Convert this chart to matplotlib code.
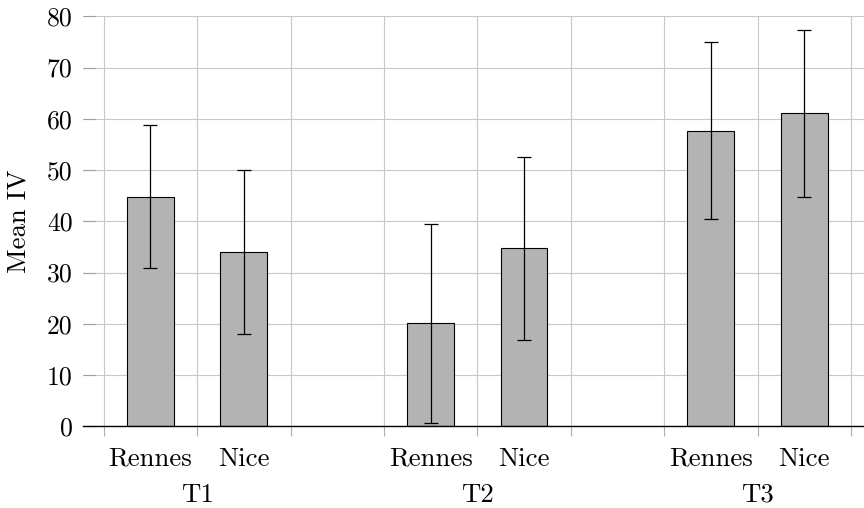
import matplotlib
matplotlib.use("Agg")
import matplotlib.pyplot as plt
import numpy as np

# Data
groups = ["T1", "T2", "T3"]
cities = ["Rennes", "Nice"]
means = [44.8, 34.1, 20.1, 34.7, 57.7, 61.1]
errors = [13.9, 16.0, 19.4, 17.9, 17.3, 16.3]
yticks = [0, 10, 20, 30, 40, 50, 60, 70, 80]

plt.rcParams['font.family'] = ['cmr10', 'DejaVu Serif']
plt.rcParams['axes.formatter.use_mathtext'] = True
plt.rcParams['mathtext.fontset'] = 'cm'

FS = 18.5
FL = 19.3
fig = plt.figure(figsize=(8.64, 5.08), dpi=100)
ax = fig.add_axes([83/864, 81.7/508, 1 - 83/864, (426.3 - 16.3)/508])

# positions: each group occupies 3 slots, bars in first two
pos = []
for g in range(len(groups)):
    for c in range(len(cities)):
        pos.append(3 * g + c + 0.5)
pos = np.array(pos)

ax.bar(pos, means, width=0.5, color='#b3b3b3', edgecolor='black', linewidth=0.8, zorder=3)
ax.errorbar(pos, means, yerr=errors, fmt='none', ecolor='black', elinewidth=0.9,
            capsize=4.7, capthick=0.9, zorder=4)

ax.set_xlim(-0.2216, 8.14)
ax.set_ylim(0, 80)
ax.set_xticks(np.arange(0, 9))
ax.set_xticklabels([])
ax.set_yticks(yticks)
ax.set_yticklabels([str(v) for v in yticks], fontsize=FS)
ax.tick_params(axis='x', which='major', direction='out', length=7.4, width=0.8, color='#b0b0b0')
ax.tick_params(axis='y', which='major', direction='in', length=8.6, width=0.8, color='#a0a0a0', pad=7.4)
ax.grid(True, color='#c8c8c8', linewidth=0.8, zorder=0)
ax.set_axisbelow(True)
for s in ['left', 'right', 'top']:
    ax.spines[s].set_visible(False)
ax.spines['bottom'].set_color('black')
ax.spines['bottom'].set_linewidth(1.0)
ax.spines['bottom'].set_zorder(5)

for p, i in zip(pos, range(len(pos))):
    ax.annotate(cities[i % 2], xy=(p, 0), xycoords=('data', 'axes fraction'),
                xytext=(0, -28.4), textcoords='offset points', ha='center', va='baseline', fontsize=FL)
for g, name in enumerate(groups):
    ax.annotate(name, xy=(3 * g + 1, 0), xycoords=('data', 'axes fraction'),
                xytext=(0, -54.3), textcoords='offset points', ha='center', va='baseline', fontsize=FL)

ax.set_ylabel("Mean IV", fontsize=FL)
ax.yaxis.set_label_coords(-0.0666, 0.5)

fig.savefig("out.png", dpi=100)
